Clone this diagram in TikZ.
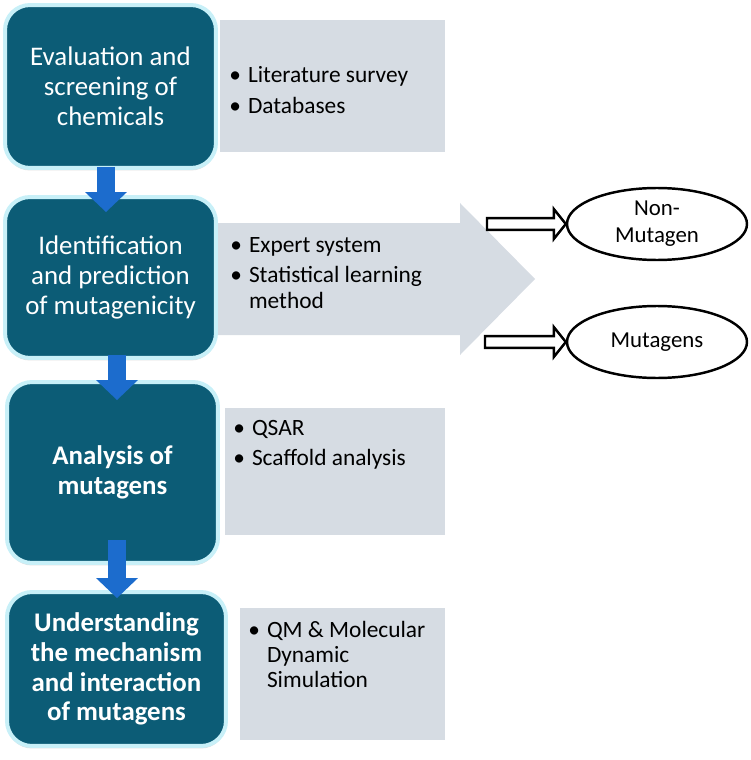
\documentclass[tikz,border=0pt]{standalone}
\usepackage{fontspec}
\setmainfont{Carlito}
\usetikzlibrary{arrows.meta,calc,shapes.geometric,shadows}
\definecolor{tealbox}{RGB}{12,92,118}
\definecolor{tealrim}{RGB}{200,240,248}
\definecolor{greybox}{RGB}{214,220,227}
\definecolor{downblue}{RGB}{28,108,205}
\newcommand{\bitems}[1]{\begin{tabular}[t]{@{}l@{\hspace{4pt}}l@{}}#1\end{tabular}}
\tikzset{
  stepbox/.style={rectangle, rounded corners=0.5cm, fill=tealbox, draw=tealrim, line width=0.08cm,
    text=white, align=center, font=\fontsize{15.3}{17}\selectfont,
    drop shadow={shadow xshift=0cm, shadow yshift=-0.05cm, opacity=0.25}},
  greyback/.style={rectangle, fill=greybox, inner sep=0pt},
  greytxt/.style={anchor=base west, inner sep=0pt, font=\fontsize{13.3}{14.5}\selectfont},
  downarr/.style={draw=downblue, line width=0.36cm, line cap=butt,
    -{Triangle[width=0.84cm,length=0.4cm,line width=0pt]}},
  hollow/.style={draw=black, fill=white, line width=1.4pt, line join=miter},
  outcome/.style={ellipse, draw, line width=1.4pt, minimum width=3.6cm, minimum height=1.44cm,
    inner sep=0pt, align=center, font=\fontsize{13}{15.4}\selectfont}
}
\begin{document}
\begin{tikzpicture}[x=0.02cm, y=-0.02cm, line join=round]
\useasboundingbox (0,0) rectangle (750,760);

\node[greyback, minimum width=4.5cm, minimum height=2.64cm] (g1) at (332.5,86) {};
\fill[greybox] (218,223) -- (460,223) -- (460,203) -- (535,279) -- (460,355) -- (460,335) -- (218,335) -- cycle;
\node[greyback, minimum width=4.4cm, minimum height=2.54cm] (g3) at (335,471.5) {};
\node[greyback, minimum width=4.1cm, minimum height=2.64cm] (g4) at (342.5,674) {};

\node[stepbox, minimum width=4.22cm, minimum height=3.26cm] (b1) at (110.5,86.5) {Evaluation and\\screening of\\chemicals};
\node[stepbox, minimum width=4.22cm, minimum height=3.22cm] (b2) at (110.5,277.5) {Identification\\and prediction\\of mutagenicity};
\node[stepbox, minimum width=4.22cm, minimum height=3.62cm, font=\fontsize{15.3}{17}\selectfont\bfseries] (b3) at (112.5,472.5) {Analysis of\\mutagens};
\node[stepbox, minimum width=4.38cm, minimum height=3.08cm, font=\fontsize{15.3}{17}\selectfont\bfseries] (b4) at (116.5,669) {Understanding\\the mechanism\\and interaction\\of mutagens};

\node[greytxt] (t1) at (229,83) {\bitems{\textbullet & Literature survey\\[3pt] \textbullet & Databases}};
\node[greytxt] (t2) at (230,252) {\bitems{\textbullet & Expert system\\[3pt] \textbullet & Statistical learning\\ & method}};
\node[greytxt] (t3) at (233,435) {\bitems{\textbullet & QSAR\\[3pt] \textbullet & Scaffold analysis}};
\node[greytxt] (t4) at (248,637) {\bitems{\textbullet & QM \& Molecular\\ & Dynamic\\ & Simulation}};

\draw[downarr] ($(b1.south)+(-4.5,-3)$) -- ($(b2.north)+(-4.5,17)$);
\draw[downarr] ($(b2.south)+(6.5,-5)$) -- ($(b3.north)+(4.5,20)$);
\draw[downarr] ($(b3.south)+(4.5,-25)$) -- ($(b4.north)+(0.5,8)$);

\node[outcome] (e1) at (657,224) {Non-\\Mutagen};
\node[outcome] (e2) at (657,342) {Mutagens};
\coordinate (h1) at (487,224);
\coordinate (h2) at (485,342);

\draw[hollow] let \p1=(h1), \p2=(e1.west) in
  (\x1,\y1+3.4pt) -- (\x2-6.8pt,\y1+3.4pt) -- (\x2-6.8pt,\y1+8.5pt) -- (\x2,\y1)
  -- (\x2-6.8pt,\y1-8.5pt) -- (\x2-6.8pt,\y1-3.4pt) -- (\x1,\y1-3.4pt) -- cycle;
\draw[hollow] let \p1=(h2), \p2=(e2.west) in
  (\x1,\y1+3.4pt) -- (\x2-6.8pt,\y1+3.4pt) -- (\x2-6.8pt,\y1+8.5pt) -- (\x2,\y1)
  -- (\x2-6.8pt,\y1-8.5pt) -- (\x2-6.8pt,\y1-3.4pt) -- (\x1,\y1-3.4pt) -- cycle;
\end{tikzpicture}
\end{document}
